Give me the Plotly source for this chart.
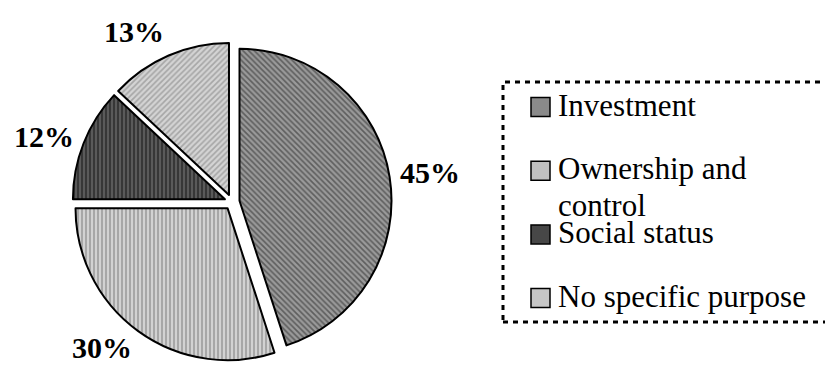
import math
import textwrap
import plotly.graph_objects as go

# Survey: main purpose of holding shares
categories = ["Investment", "Ownership and control", "Social status", "No specific purpose"]
shares = [45, 30, 12, 13]

# Grey fills with fine hatching, one per category
fill_bg = ["#9a9a9a", "#d2d2d2", "#5a5a5a", "#d4d4d4"]
fill_fg = ["#5e5e5e", "#9c9c9c", "#2e2e2e", "#a6a6a6"]
hatch = ["\\", "|", "|", "/"]
swatch = ["#8a8a8a", "#c0c0c0", "#474747", "#c6c6c6"]

W, H = 825, 367
PULL = 0.05
CX, CY = 232, 202          # pie centre, pixels from top-left
R_DOMAIN = 159.6           # half-size of the pie domain, pixels


def px(x):
    return x / W


def py(y):
    return 1 - y / H


fig = go.Figure()
fig.add_trace(go.Pie(
    labels=categories,
    values=shares,
    sort=False,
    direction="clockwise",
    rotation=0,
    pull=[PULL] * len(shares),
    textinfo="none",
    marker=dict(
        colors=fill_bg,
        line=dict(color="black", width=2),
        pattern=dict(shape=hatch, fgcolor=fill_fg, bgcolor=fill_bg, size=4, solidity=0.4),
    ),
    domain=dict(x=[px(CX - R_DOMAIN), px(CX + R_DOMAIN)],
                y=[py(CY + R_DOMAIN), py(CY - R_DOMAIN)]),
    showlegend=False,
    hoverinfo="label+percent",
))

annotations = []

# Percentage labels set outside each slice, along its bisector
total = sum(shares)
start = 0.0
label_r, half_w, half_h = 170, 30, 11
for v in shares:
    frac = v / total
    theta = 2 * math.pi * (start + frac / 2)   # clockwise from 12 o'clock
    start += frac
    s, c = math.sin(theta), math.cos(theta)
    x = CX + label_r * s + (half_w * math.copysign(1, s) if abs(s) > 0.3 else 0)
    y = CY - label_r * c - (half_h * math.copysign(1, c) if abs(c) > 0.5 else 0) - 3
    annotations.append(dict(
        x=px(x), y=py(y), xref="paper", yref="paper",
        text=f"{round(frac * 100)}%", showarrow=False,
        xanchor="center", yanchor="middle",
        font=dict(family="Liberation Serif", size=30, color="black", weight="bold"),
    ))

# Legend drawn beside the pie inside a dotted frame
shapes = [dict(
    type="rect", xref="paper", yref="paper",
    x0=px(503), x1=1.02, y0=py(322), y1=py(82),
    line=dict(color="black", width=3, dash="5px,5px"),
    fillcolor="rgba(0,0,0,0)",
)]
item_y0, item_step, line_step = 107, 63.7, 37
for i, name in enumerate(categories):
    yc = item_y0 + i * item_step
    shapes.append(dict(
        type="rect", xref="paper", yref="paper",
        x0=px(531), x1=px(550), y0=py(yc + 9.5), y1=py(yc - 9.5),
        line=dict(color="black", width=1.5), fillcolor=swatch[i],
    ))
    for j, line in enumerate(textwrap.wrap(name, 19)):
        annotations.append(dict(
            x=px(556), y=py(yc + j * line_step - 2), xref="paper", yref="paper",
            text=line, showarrow=False, xanchor="left", yanchor="middle",
            font=dict(family="Liberation Serif", size=31, color="black"),
        ))

fig.update_layout(
    width=W, height=H,
    margin=dict(l=0, r=0, t=0, b=0),
    paper_bgcolor="white",
    plot_bgcolor="white",
    shapes=shapes,
    annotations=annotations,
)

fig.write_html("out.html")
